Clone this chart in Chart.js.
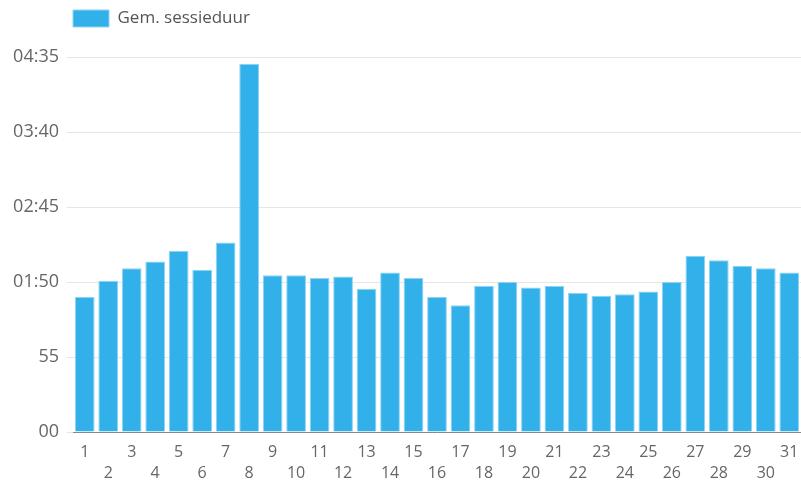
<!DOCTYPE html>
<html>
<head>
<meta charset="utf-8">
<script src="https://cdn.jsdelivr.net/npm/chart.js@4/dist/chart.umd.min.js"></script>
<style>
  html, body { margin: 0; padding: 0; background: #fff; }
  #wrap { width: 801px; height: 483px; }
</style>
</head>
<body>
<div id="wrap"><canvas id="chart"></canvas></div>
<script>
// dagen van de maand
const days = ['1','2','3','4','5','6','7','8','9','10','11','12','13','14','15','16',
              '17','18','19','20','21','22','23','24','25','26','27','28','29','30','31'];

// gemiddelde sessieduur in seconden
const sessionSeconds = [99, 111, 120, 125, 133, 119, 139, 270, 115, 115, 113, 114, 105, 117, 113, 99,
                        93, 107, 110, 106, 107, 102, 100, 101, 103, 110, 129, 126, 122, 120, 117];

const yTicks = [0, 55, 110, 165, 220, 275];

function fmtDuration(sec) {
    const m = Math.floor(sec / 60);
    const s = sec % 60;
    const ss = String(s).padStart(2, '0');
    if (m === 0) return ss;
    return String(m).padStart(2, '0') + ':' + ss;
}

Chart.defaults.font.family = '"Open Sans", sans-serif';
Chart.defaults.color = '#666';

// legenda naar rechts schuiven en extra ruimte eronder
const legendTweak = {
    id: 'legendTweak',
    beforeLayout: function (chart) {
        const lg = chart.legend;
        if (lg && !lg._patched) {
            const origFit = lg.fit;
            lg.fit = function () {
                origFit.call(this);
                this.height += 20;
            };
            lg._patched = true;
        }
    },
    afterLayout: function (chart) {
        chart.legend.left += 63;
    }
};

const ctx = document.getElementById('chart').getContext('2d');
new Chart(ctx, {
    type: 'bar',
    data: {
        labels: days,
        datasets: [{
            label: 'Gem. sessieduur',
            data: sessionSeconds,
            backgroundColor: '#31b0ea',
            borderColor: '#8fd3f3',
            borderWidth: 1,
            barPercentage: 0.84,
            categoryPercentage: 1.0
        }]
    },
    options: {
        responsive: true,
        maintainAspectRatio: false,
        animation: false,
        layout: { padding: 0 },
        plugins: {
            legend: {
                position: 'top',
                align: 'start',
                labels: {
                    boxWidth: 36,
                    boxHeight: 17,
                    padding: 10,
                    color: '#555',
                    font: { size: 17 }
                }
            },
            tooltip: { enabled: false }
        },
        scales: {
            x: {
                grid: { display: false, drawTicks: false },
                border: { display: true, color: '#888', width: 1 },
                ticks: {
                    autoSkip: false,
                    maxRotation: 0,
                    minRotation: 0,
                    padding: 10,
                    font: { size: 16, lineHeight: 1.3 },
                    callback: function (value, index) {
                        const lbl = days[index];
                        return index % 2 === 0 ? lbl : ['', lbl];
                    }
                },
                afterFit: function (scale) {
                    scale.height = 51;
                    scale.paddingLeft = 0;
                    scale.paddingRight = 0;
                }
            },
            y: {
                min: 0,
                max: 275,
                afterBuildTicks: function (axis) {
                    axis.ticks = yTicks.map(v => ({ value: v }));
                },
                afterFit: function (scale) {
                    scale.width = 73;
                },
                grid: {
                    color: '#e6e6e6',
                    tickLength: 6,
                    tickColor: '#e6e6e6'
                },
                border: { display: false },
                ticks: {
                    padding: 8,
                    font: { size: 18 },
                    callback: function (value) {
                        return fmtDuration(value);
                    }
                }
            }
        }
    },
    plugins: [legendTweak]
});
</script>
</body>
</html>
